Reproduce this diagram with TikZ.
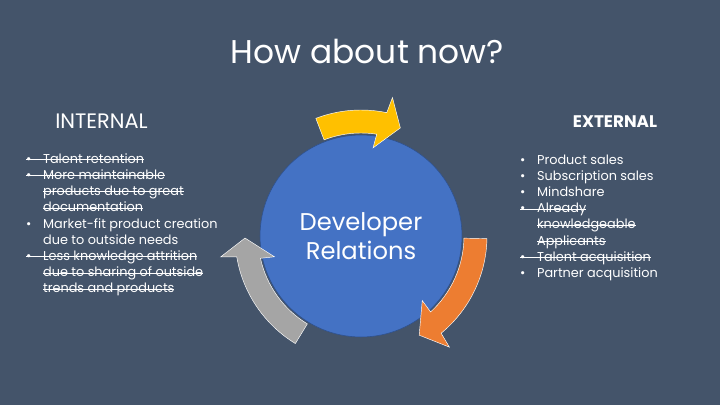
\documentclass[tikz,border=0pt]{standalone}
\usepackage{fontspec}
\setmainfont{Poppins}
\definecolor{slate}{HTML}{44546A}
\definecolor{devblue}{HTML}{4472C4}
\definecolor{devedge}{HTML}{2F528F}
\definecolor{gold}{HTML}{FFC000}
\definecolor{rust}{HTML}{ED7D31}
\definecolor{stone}{HTML}{A5A5A5}
\newsavebox{\strkbox}
\newcommand{\strk}[1]{\sbox\strkbox{#1}\rlap{\rule[0.26em]{\wd\strkbox}{1pt}}\usebox\strkbox}
\newcommand{\bul}{\makebox[22.7pt][l]{\textbullet}}
\newcommand{\ind}{\hspace*{22.7pt}}
\begin{document}
\begin{tikzpicture}[x=0.04704cm, y=-0.04704cm, text=white,
        every node/.style={inner sep=0pt},
        heading/.style={anchor=base, font=\fontsize{28}{32}\selectfont},
        item/.style={anchor=base west, font=\fontsize{17.2}{21.7}\selectfont},
        ring arrow/.style={draw=white, line width=0.6pt}]
        \fill[slate] (0,0) rectangle (720,405);
        \useasboundingbox (0,0) rectangle (720,405);
        \node[anchor=base, font=\fontsize{44}{50}\selectfont] (title) at (367.5,63) {How about now?};
        \node[heading] (internal) at (101.5,128) {INTERNAL};
        \node[heading, font=\fontsize{22.5}{26}\selectfont\bfseries] (external) at (615,127) {EXTERNAL};
        % left list
        \node[item] (retention) at (26,163) {\begin{tabular}[t]{@{}l@{}}\strk{\bul Talent retention}\end{tabular}};
        \node[item] (maintain) at (26,179.25) {\begin{tabular}[t]{@{}l@{}}\strk{\bul More maintainable}\\
                \ind\strk{products due to great}\\ \ind\strk{documentation}\end{tabular}};
        \node[item] (marketfit) at (26,228) {\begin{tabular}[t]{@{}l@{}}\bul Market-fit product creation\\
                \ind due to outside needs\end{tabular}};
        \node[item] (attrition) at (26,260.5) {\begin{tabular}[t]{@{}l@{}}\strk{\bul Less knowledge attrition}\\
                \ind\strk{due to sharing of outside}\\ \ind\strk{trends and products}\end{tabular}};
        % right list
        \node[item] (sales) at (520,164) {\begin{tabular}[t]{@{}l@{}}\bul Product sales\\ \bul Subscription sales\\
                \bul Mindshare\end{tabular}};
        \node[item] (applicants) at (520,212.75) {\begin{tabular}[t]{@{}l@{}}\strk{\bul Already}\\
                \ind\strk{knowledgeable}\\ \ind\strk{Applicants}\end{tabular}};
        \node[item] (acquisition) at (520,261.5) {\begin{tabular}[t]{@{}l@{}}\strk{\bul Talent acquisition}\\
                \bul Partner acquisition\end{tabular}};
        % circle and cycle arrows
        \node[circle, fill=devblue, draw=devedge, line width=0.8pt, minimum size=9.5cm, align=center,
                font=\fontsize{32.4}{38.7}\selectfont] (dr) at (361,236) {Developer\\Relations};
        \begin{scope}[shift={(dr.center)}, x=0.04704cm, y=0.04704cm]
            \filldraw[ring arrow, fill=gold] (111:103) -- (111:126) arc[start angle=111, end angle=78.2, radius=5.927cm]
                -- (77.2:142) -- (70:115) -- (82.2:89) -- (81.2:103) arc[start angle=81.2, end angle=111, radius=4.845cm] -- cycle;
            \filldraw[ring arrow, fill=rust] (-1.2:103) -- (-1.2:126) arc[start angle=-1.2, end angle=-50.5, radius=5.927cm]
                -- (-51.5:142) -- (-59.6:115) -- (-46.5:89) -- (-47.5:103) arc[start angle=-47.5, end angle=-1.2, radius=4.845cm] -- cycle;
            \filldraw[ring arrow, fill=stone] (238.6:103) -- (238.6:126) arc[start angle=238.6, end angle=189.5, radius=5.927cm]
                -- (188.5:142) -- (181:116) -- (193.5:89) -- (192.5:103) arc[start angle=192.5, end angle=238.6, radius=4.845cm] -- cycle;
        \end{scope}
\end{tikzpicture}
\end{document}
